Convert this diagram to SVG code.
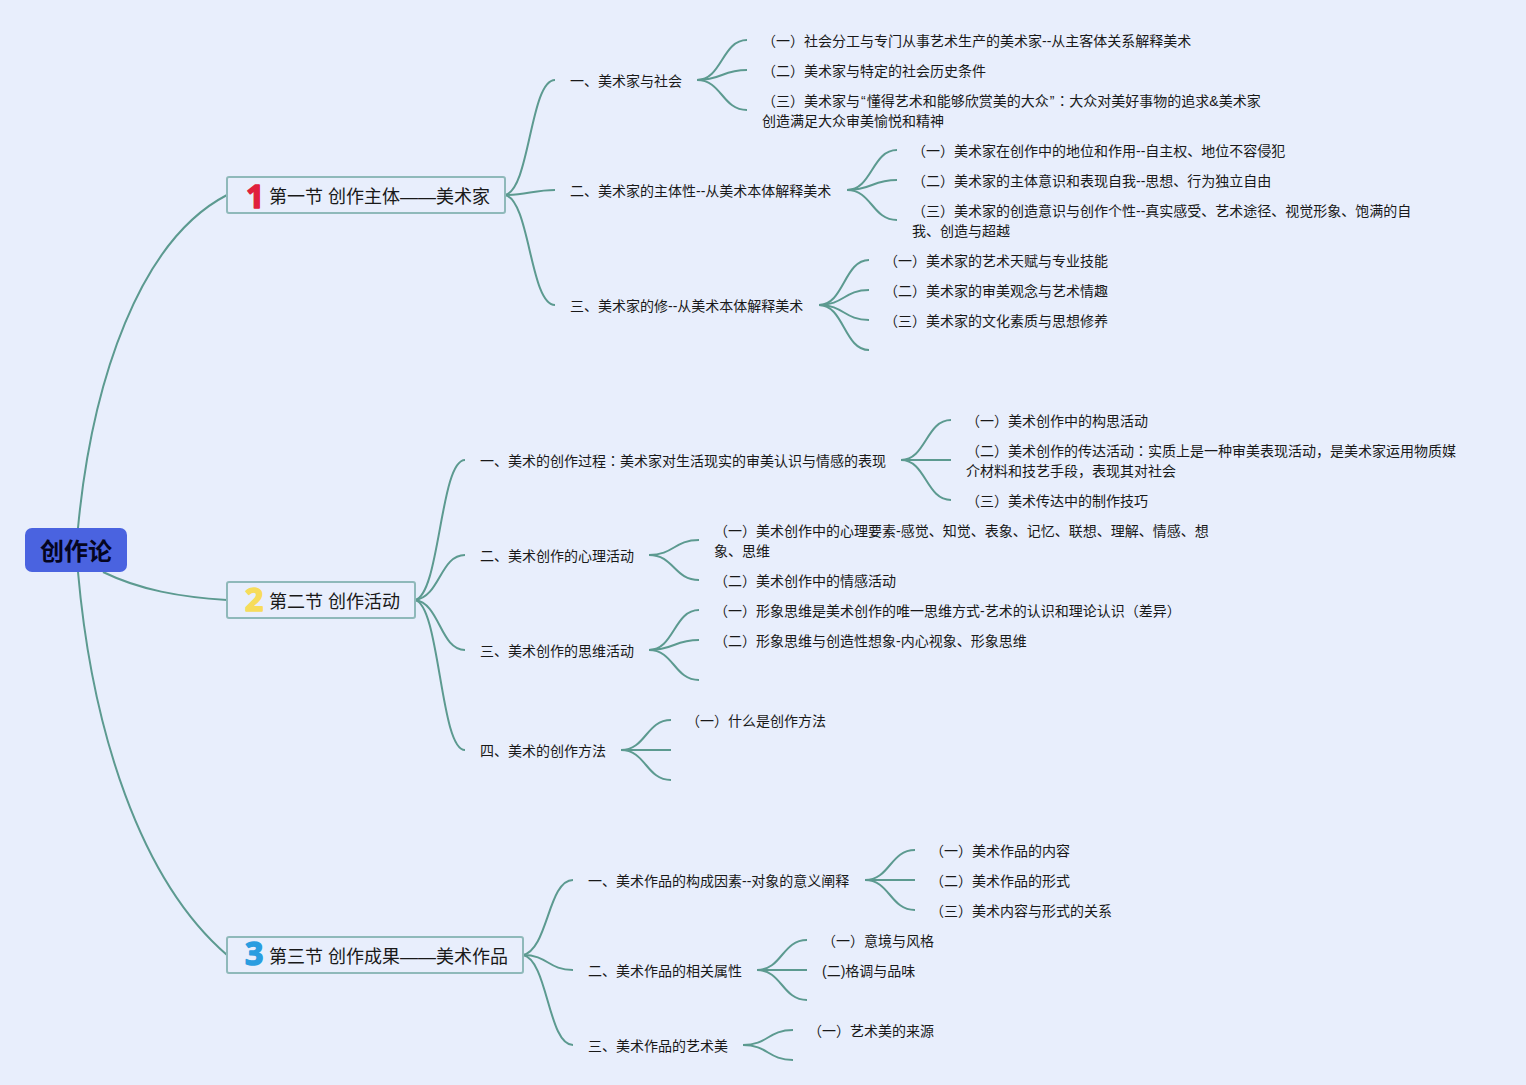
<svg xmlns="http://www.w3.org/2000/svg" width="1526" height="1085" viewBox="0 0 1526 1085">
<style>
text{font-family:"Liberation Sans","Noto Sans CJK SC",sans-serif;fill:#191919}
.s{font-size:14px}
.t{font-size:18px}
.r{font-size:24px;font-weight:700;fill:#05051f}
.c{font-family:"Noto Sans CJK TC",sans-serif}
.n{font-size:32px;font-weight:700;font-family:"Noto Sans","Liberation Sans",sans-serif;stroke-width:1.5;stroke-linejoin:round}
.box{fill:#e8eefc;stroke:#8fb9ba;stroke-width:2}
#connectors path{fill:none;stroke:#5c9a90;stroke-width:2}
</style>
<rect width="1526" height="1085" fill="#e8eefc"/>
<g id="connectors">
<path d="M78 528C92 380 140 240 227 195"/>
<path d="M103 572C140 590 180 597 227 600"/>
<path d="M78 572C92 730 140 880 227 955"/>
<path d="M505 195C530 190 530 80 555 80"/>
<path d="M505 195C525 195 535 190 555 190"/>
<path d="M505 195C530 200 530 305 555 305"/>
<path d="M697 80C722 80 722 40 747 40"/>
<path d="M697 80C722 80 722 70 747 70"/>
<path d="M697 80C722 80 722 110 747 110"/>
<path d="M847 190C872 190 872 150 897 150"/>
<path d="M847 190C872 190 872 180 897 180"/>
<path d="M847 190C872 190 872 220 897 220"/>
<path d="M819 305C844 305 844 260 869 260"/>
<path d="M819 305C844 305 844 290 869 290"/>
<path d="M819 305C844 305 844 320 869 320"/>
<path d="M819 305C844 305 844 350 869 350"/>
<path d="M415 600C440 595 440 460 465 460"/>
<path d="M415 600C440 597 440 555 465 555"/>
<path d="M415 600C440 603 440 650 465 650"/>
<path d="M415 600C440 605 440 750 465 750"/>
<path d="M901 460C926 460 926 420 951 420"/>
<path d="M901 460C926 460 926 460 951 460"/>
<path d="M901 460C926 460 926 500 951 500"/>
<path d="M649 555C674 555 674 540 699 540"/>
<path d="M649 555C674 555 674 580 699 580"/>
<path d="M649 650C674 650 674 610 699 610"/>
<path d="M649 650C674 650 674 640 699 640"/>
<path d="M649 650C674 650 674 680 699 680"/>
<path d="M621 750C646 750 646 720 671 720"/>
<path d="M621 750C646 750 646 750 671 750"/>
<path d="M621 750C646 750 646 780 671 780"/>
<path d="M523 955C548 950 548 880 573 880"/>
<path d="M523 955C548 955 548 970 573 970"/>
<path d="M523 955C548 960 548 1045 573 1045"/>
<path d="M865 880C890 880 890 850 915 850"/>
<path d="M865 880C890 880 890 880 915 880"/>
<path d="M865 880C890 880 890 910 915 910"/>
<path d="M757 970C782 970 782 940 807 940"/>
<path d="M757 970C782 970 782 970 807 970"/>
<path d="M757 970C782 970 782 1000 807 1000"/>
<path d="M743 1045C768 1045 768 1030 793 1030"/>
<path d="M743 1045C768 1045 768 1060 793 1060"/>
</g>
<g id="root"><rect x="25" y="528" width="102" height="44" rx="7" fill="#4a63e0"/><text class="r" x="40" y="560">创作论</text></g>
<g id="topic1"><rect class="box" x="227" y="177" width="278" height="36" rx="2"/><text class="n" x="246" y="208" style="fill:#e0203c;stroke:#e0203c">1</text><text class="t" x="269" y="203">第一节 创作主体——美术家</text></g>
<g id="topic2"><rect class="box" x="227" y="582" width="188" height="36" rx="2"/><text class="n" x="245" y="611" style="fill:#f7dc5a;stroke:#f7dc5a">2</text><text class="t" x="269" y="608">第二节 创作活动</text></g>
<g id="topic3"><rect class="box" x="227" y="937" width="296" height="36" rx="2"/><text class="n" x="245" y="965" style="fill:#2a9de0;stroke:#2a9de0">3</text><text class="t" x="269" y="963">第三节 创作成果——美术作品</text></g>
<g id="n1-1"><text class="s" x="570" y="86">一、美术家与社会</text></g>
<g id="n1-1-1"><text class="s" x="762" y="46">（一）社会分工与专门从事艺术生产的美术家--从主客体关系解释美术</text></g>
<g id="n1-1-2"><text class="s" x="762" y="76">（二）美术家与特定的社会历史条件</text></g>
<g id="n1-1-3"><text class="s" x="762" y="106">（三）美术家与<tspan dx="1">“</tspan><tspan dx="1">懂得艺术和能够欣赏美的大众</tspan><tspan dx="1">”</tspan><tspan class="c" dx="1">：</tspan>大众对美好事物的追求&amp;美术家</text><text class="s" x="762" y="126">创造满足大众审美愉悦和精神</text></g>
<g id="n1-2"><text class="s" x="570" y="196">二、美术家的主体性--从美术本体解释美术</text></g>
<g id="n1-2-1"><text class="s" x="912" y="156">（一）美术家在创作中的地位和作用--自主权、地位不容侵犯</text></g>
<g id="n1-2-2"><text class="s" x="912" y="186">（二）美术家的主体意识和表现自我--思想、行为独立自由</text></g>
<g id="n1-2-3"><text class="s" x="912" y="216">（三）美术家的创造意识与创作个性--真实感受、艺术途径、视觉形象、饱满的自</text><text class="s" x="912" y="236">我、创造与超越</text></g>
<g id="n1-3"><text class="s" x="570" y="311">三、美术家的修--从美术本体解释美术</text></g>
<g id="n1-3-1"><text class="s" x="884" y="266">（一）美术家的艺术天赋与专业技能</text></g>
<g id="n1-3-2"><text class="s" x="884" y="296">（二）美术家的审美观念与艺术情趣</text></g>
<g id="n1-3-3"><text class="s" x="884" y="326">（三）美术家的文化素质与思想修养</text></g>
<g id="n2-1"><text class="s" x="480" y="466">一、美术的创作过程<tspan class="c">：</tspan>美术家对生活现实的审美认识与情感的表现</text></g>
<g id="n2-1-1"><text class="s" x="966" y="426">（一）美术创作中的构思活动</text></g>
<g id="n2-1-2"><text class="s" x="966" y="456">（二）美术创作的传达活动<tspan class="c">：</tspan>实质上是一种审美表现活动，是美术家运用物质媒</text><text class="s" x="966" y="476">介材料和技艺手段，表现其对社会</text></g>
<g id="n2-1-3"><text class="s" x="966" y="506">（三）美术传达中的制作技巧</text></g>
<g id="n2-2"><text class="s" x="480" y="561">二、美术创作的心理活动</text></g>
<g id="n2-2-1"><text class="s" x="714" y="536">（一）美术创作中的心理要素-感觉、知觉、表象、记忆、联想、理解、情感、想</text><text class="s" x="714" y="556">象、思维</text></g>
<g id="n2-2-2"><text class="s" x="714" y="586">（二）美术创作中的情感活动</text></g>
<g id="n2-3"><text class="s" x="480" y="656">三、美术创作的思维活动</text></g>
<g id="n2-3-1"><text class="s" x="714" y="616">（一）形象思维是美术创作的唯一思维方式-艺术的认识和理论认识（差异）</text></g>
<g id="n2-3-2"><text class="s" x="714" y="646">（二）形象思维与创造性想象-内心视象、形象思维</text></g>
<g id="n2-4"><text class="s" x="480" y="756">四、美术的创作方法</text></g>
<g id="n2-4-1"><text class="s" x="686" y="726">（一）什么是创作方法</text></g>
<g id="n3-1"><text class="s" x="588" y="886">一、美术作品的构成因素--对象的意义阐释</text></g>
<g id="n3-1-1"><text class="s" x="930" y="856">（一）美术作品的内容</text></g>
<g id="n3-1-2"><text class="s" x="930" y="886">（二）美术作品的形式</text></g>
<g id="n3-1-3"><text class="s" x="930" y="916">（三）美术内容与形式的关系</text></g>
<g id="n3-2"><text class="s" x="588" y="976">二、美术作品的相关属性</text></g>
<g id="n3-2-1"><text class="s" x="822" y="946">（一）意境与风格</text></g>
<g id="n3-2-2"><text class="s" x="822" y="976">(二)格调与品味</text></g>
<g id="n3-3"><text class="s" x="588" y="1051">三、美术作品的艺术美</text></g>
<g id="n3-3-1"><text class="s" x="808" y="1036">（一）艺术美的来源</text></g>
</svg>
